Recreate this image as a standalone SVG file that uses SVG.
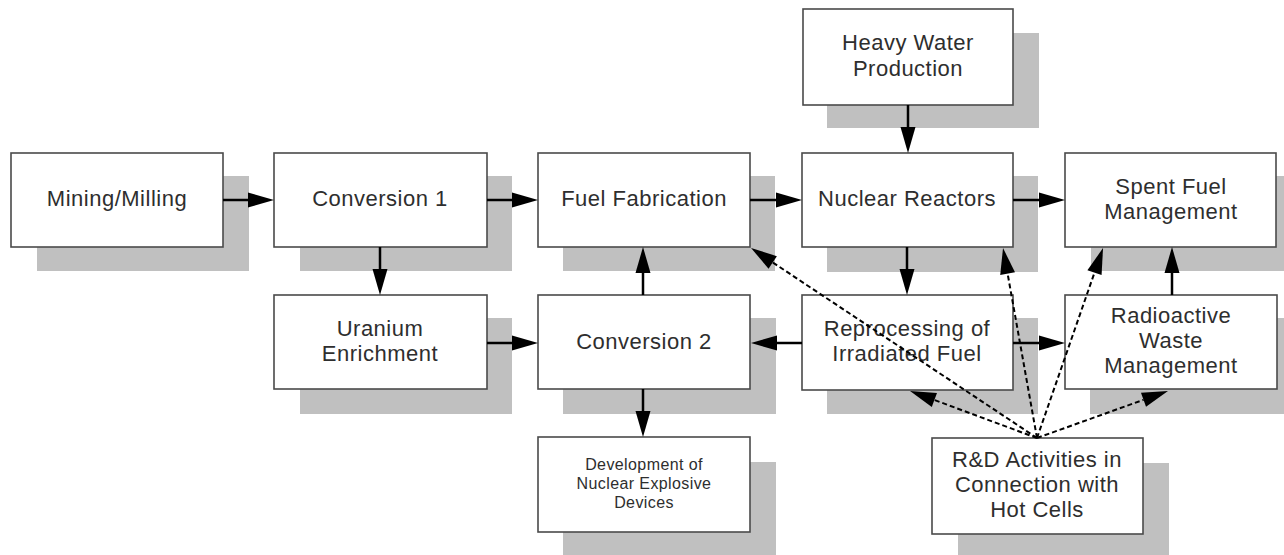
<svg xmlns="http://www.w3.org/2000/svg" width="1284" height="555" viewBox="0 0 1284 555">
<style>
.sh{fill:#c0c0c0;stroke:none}
.bx{fill:#fff;stroke:#4a4a4a;stroke-width:1.6}
.t{font-family:"Liberation Sans",Arial,sans-serif;font-size:22px;letter-spacing:0.5px;fill:#2e2e2e;text-anchor:middle}
.ts{font-family:"Liberation Sans",Arial,sans-serif;font-size:16px;letter-spacing:0.4px;fill:#2e2e2e;text-anchor:middle}
.c{stroke:#000;stroke-width:2.5;fill:none;marker-end:url(#ah)}
.d{stroke:#000;stroke-width:2;fill:none;stroke-dasharray:5 3;marker-end:url(#ah)}
</style>
<defs>
<marker id="ah" markerUnits="userSpaceOnUse" markerWidth="27" markerHeight="16" refX="0" refY="7.5" orient="auto" overflow="visible">
<path d="M0,0 L26,7.5 L0,15 Z" fill="#000"/>
</marker>
</defs>
<rect width="1284" height="555" fill="#fff"/>
<g id="mining">
<rect class="sh" x="37" y="176" width="212" height="95"/>
<rect class="bx" x="11" y="153" width="212" height="94"/>
<text class="t" x="117" y="206">Mining/Milling</text>
</g>
<g id="conversion1">
<rect class="sh" x="300" y="176" width="212" height="95"/>
<rect class="bx" x="274" y="153" width="213" height="94"/>
<text class="t" x="380" y="206">Conversion 1</text>
</g>
<g id="fuelfab">
<rect class="sh" x="563" y="176" width="212" height="95"/>
<rect class="bx" x="538" y="153" width="212" height="94"/>
<text class="t" x="644" y="206">Fuel Fabrication</text>
</g>
<g id="reactors">
<rect class="sh" x="827" y="176" width="211" height="96"/>
<rect class="bx" x="802" y="153" width="211" height="94"/>
<text class="t" x="907" y="206">Nuclear Reactors</text>
</g>
<g id="spentfuel">
<rect class="sh" x="1091" y="176" width="212" height="95"/>
<rect class="bx" x="1065" y="153" width="211" height="94"/>
<text class="t" x="1171" y="194">Spent Fuel</text>
<text class="t" x="1171" y="219">Management</text>
</g>
<g id="heavywater">
<rect class="sh" x="827" y="33" width="212" height="95"/>
<rect class="bx" x="803" y="9" width="210" height="96"/>
<text class="t" x="908" y="50">Heavy Water</text>
<text class="t" x="908" y="76">Production</text>
</g>
<g id="enrichment">
<rect class="sh" x="300" y="318" width="212" height="96"/>
<rect class="bx" x="274" y="295" width="213" height="94"/>
<text class="t" x="380" y="336">Uranium</text>
<text class="t" x="380" y="361">Enrichment</text>
</g>
<g id="conversion2">
<rect class="sh" x="563" y="318" width="213" height="96"/>
<rect class="bx" x="538" y="295" width="212" height="94"/>
<text class="t" x="644" y="349">Conversion 2</text>
</g>
<g id="reprocessing">
<rect class="sh" x="827" y="318" width="211" height="96"/>
<rect class="bx" x="802" y="295" width="211" height="95"/>
<text class="t" x="907" y="336">Reprocessing of</text>
<text class="t" x="907" y="361">Irradiated Fuel</text>
</g>
<g id="radwaste">
<rect class="sh" x="1090" y="318" width="212" height="96"/>
<rect class="bx" x="1065" y="295" width="212" height="94"/>
<text class="t" x="1171" y="323">Radioactive</text>
<text class="t" x="1171" y="348">Waste</text>
<text class="t" x="1171" y="373">Management</text>
</g>
<g id="explosive">
<rect class="sh" x="563" y="462" width="213" height="100"/>
<rect class="bx" x="538" y="437" width="212" height="95"/>
<text class="ts" x="644" y="470">Development of</text>
<text class="ts" x="644" y="489">Nuclear Explosive</text>
<text class="ts" x="644" y="508">Devices</text>
</g>
<g id="hotcells">
<rect class="sh" x="958" y="463" width="211" height="100"/>
<rect class="bx" x="932" y="438" width="211" height="96"/>
<text class="t" x="1037" y="467">R&amp;D Activities in</text>
<text class="t" x="1037" y="492">Connection with</text>
<text class="t" x="1037" y="517">Hot Cells</text>
</g>
<g id="connectors">
<path class="c" d="M223,200 H248"/>
<path class="c" d="M487,200 H512"/>
<path class="c" d="M750,200 H776"/>
<path class="c" d="M1013,200 H1039"/>
<path class="c" d="M908,105 V127"/>
<path class="c" d="M380,247 V269"/>
<path class="c" d="M487,343 H512"/>
<path class="c" d="M643,295 V273"/>
<path class="c" d="M802,343 H777"/>
<path class="c" d="M907,247 V269"/>
<path class="c" d="M1013,343 H1039"/>
<path class="c" d="M1172,295 V273"/>
<path class="c" d="M643,389 V411"/>
<path class="d" d="M1037,438 L772.7,262.4"/>
<path class="d" d="M1037,438 L1007.6,273.6"/>
<path class="d" d="M1037,438 L1094.5,272.6"/>
<path class="d" d="M1037,438 L934.4,400"/>
<path class="d" d="M1037,438 L1143.5,399.8"/>
</g>
</svg>
